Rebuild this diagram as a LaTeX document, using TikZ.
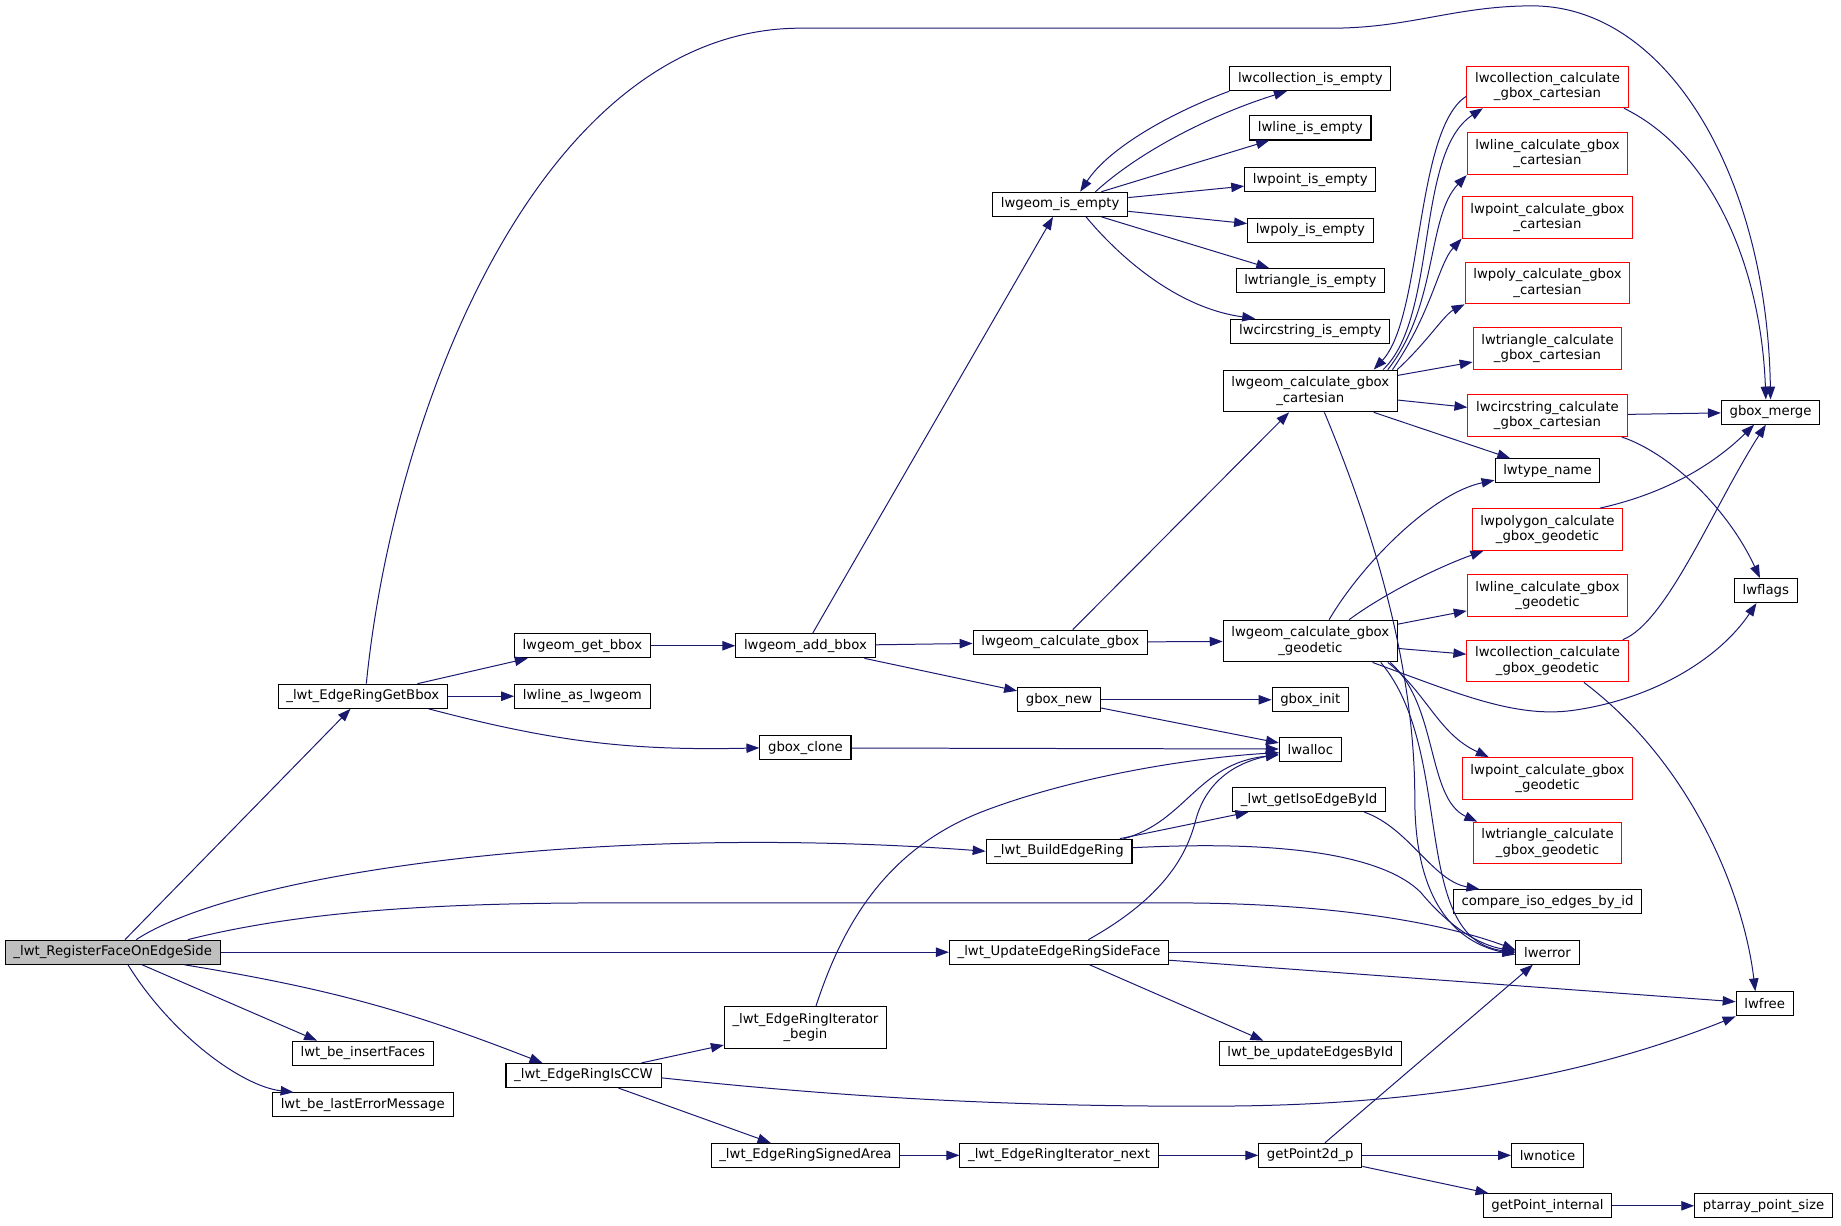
\documentclass[tikz,border=0pt]{standalone}
\usepackage{fontspec}
\setmainfont{DejaVu Sans}
\usetikzlibrary{arrows.meta}
\definecolor{edgeblue}{HTML}{191970}
\tikzset{
  fn/.style={draw=black, line width=0.9pt, fill=white, inner xsep=7pt, inner ysep=2pt,
    minimum height=20.5pt, align=center, font=\fontsize{11.3}{13}\selectfont},
  fntwo/.style={fn, minimum height=35.5pt},
  fnred/.style={fntwo, draw=red},
  fnroot/.style={fn, fill=black!25},
  call/.style={draw=edgeblue, line width=0.85pt, -{Triangle[length=11pt,width=8pt]}},
}

\begin{document}
\begin{tikzpicture}[x=1pt,y=-1pt]
			%%%%% START %%%%%
			\useasboundingbox (0,0) rectangle (1568,1044);
			
			% first column
			\node[fnroot] (rfoes) at (96, 811) {\_lwt\_RegisterFaceOnEdgeSide};
			\node[fn] (getbbox) at (309, 593) {\_lwt\_EdgeRingGetBbox};
			\node[fn] (insert) at (309, 897) {lwt\_be\_insertFaces};
			\node[fn] (lasterr) at (309, 941) {lwt\_be\_lastErrorMessage};
			
			\node[fn] (getbboxw) at (496, 550) {lwgeom\_get\_bbox};
			\node[fn] (lineas) at (496, 593) {lwline\_as\_lwgeom};
			\node[fn] (ccw) at (497, 916) {\_lwt\_EdgeRingIsCCW};
			
			\node[fn] (addbbox) at (686, 550) {lwgeom\_add\_bbox};
			\node[fn] (clone) at (686, 637) {gbox\_clone};
			\node[fntwo] (iterbegin) at (686, 875) {\_lwt\_EdgeRingIterator\\\_begin};
			\node[fn] (signed) at (686, 984) {\_lwt\_EdgeRingSignedArea};
			
			\node[fn] (isempty) at (903, 174) {lwgeom\_is\_empty};
			\node[fn] (calcgbox) at (903, 547) {lwgeom\_calculate\_gbox};
			\node[fn] (gboxnew) at (902, 596) {gbox\_new};
			\node[fn] (build) at (902, 725) {\_lwt\_BuildEdgeRing};
			\node[fn] (update) at (902, 811) {\_lwt\_UpdateEdgeRingSideFace};
			\node[fn] (iternext) at (902, 984) {\_lwt\_EdgeRingIterator\_next};
			
			% middle column
			\node[fn] (colempty) at (1116, 67) {lwcollection\_is\_empty};
			\node[fn] (lineempty) at (1116, 109) {lwline\_is\_empty};
			\node[fn] (pointempty) at (1116, 153) {lwpoint\_is\_empty};
			\node[fn] (polyempty) at (1116, 196) {lwpoly\_is\_empty};
			\node[fn] (triempty) at (1116, 239) {lwtriangle\_is\_empty};
			\node[fn] (circempty) at (1116, 282) {lwcircstring\_is\_empty};
			\node[fntwo] (cart) at (1116, 333) {lwgeom\_calculate\_gbox\\\_cartesian};
			\node[fntwo] (geod) at (1116, 546) {lwgeom\_calculate\_gbox\\\_geodetic};
			\node[fn] (init) at (1116, 596) {gbox\_init};
			\node[fn] (alloc) at (1116, 638) {lwalloc};
			\node[fn] (isoedge) at (1115, 681) {\_lwt\_getIsoEdgeById};
			\node[fn] (updedges) at (1116, 897) {lwt\_be\_updateEdgesById};
			\node[fn] (p2d) at (1116, 984) {getPoint2d\_p};
			
			% red column
			\node[fnred] (colcart) at (1318, 74) {lwcollection\_calculate\\\_gbox\_cartesian};
			\node[fnred] (linecart) at (1318, 131) {lwline\_calculate\_gbox\\\_cartesian};
			\node[fnred] (pointcart) at (1318, 185) {lwpoint\_calculate\_gbox\\\_cartesian};
			\node[fnred] (polycart) at (1318, 241) {lwpoly\_calculate\_gbox\\\_cartesian};
			\node[fnred] (tricart) at (1318, 297) {lwtriangle\_calculate\\\_gbox\_cartesian};
			\node[fnred] (circcart) at (1318, 354) {lwcircstring\_calculate\\\_gbox\_cartesian};
			\node[fn] (typename) at (1318, 401) {lwtype\_name};
			\node[fnred] (polygeod) at (1318, 451) {lwpolygon\_calculate\\\_gbox\_geodetic};
			\node[fnred] (linegeod) at (1318, 507) {lwline\_calculate\_gbox\\\_geodetic};
			\node[fnred] (colgeod) at (1318, 563) {lwcollection\_calculate\\\_gbox\_geodetic};
			\node[fnred] (pointgeod) at (1318, 663) {lwpoint\_calculate\_gbox\\\_geodetic};
			\node[fnred] (trigeod) at (1318, 718) {lwtriangle\_calculate\\\_gbox\_geodetic};
			\node[fn] (compare) at (1318, 768) {compare\_iso\_edges\_by\_id};
			\node[fn] (error) at (1318, 811) {lwerror};
			\node[fn] (notice) at (1318, 984) {lwnotice};
			\node[fn] (internal) at (1318, 1027) {getPoint\_internal};
			
			% last column
			\node[fn] (merge) at (1508, 351) {gbox\_merge};
			\node[fn] (flags) at (1504, 503) {lwflags};
			\node[fn] (free) at (1503, 855) {lwfree};
			\node[fn] (psize) at (1502, 1027) {ptarray\_point\_size};
			
			% calls of _lwt_RegisterFaceOnEdgeSide
			\draw[call] (rfoes) -- (getbbox);
			\draw[call] ([xshift=20pt]rfoes.north) .. controls (200,745) and (500,700) .. (build.west);
			\draw[call] ([xshift=64pt]rfoes.north) .. controls (260,775) and (380,769) .. (520,769) -- (1000,769) .. controls (1150,769) and (1240,790) .. ([yshift=2pt]error.west);
			\draw[call] (rfoes) -- (update);
			\draw[call] ([xshift=25pt]rfoes.south) -- ([xshift=-39pt]insert.north);
			\draw[call] ([xshift=13pt]rfoes.south) .. controls (145,880) and (205,925) .. ([xshift=-59pt]lasterr.north);
			\draw[call] ([xshift=61pt]rfoes.south) to[bend left=6] ([xshift=-35pt]ccw.north);
			
			% _lwt_EdgeRingGetBbox
			\draw[call] ([xshift=3pt]getbbox.north) .. controls (335,350) and (460,24) .. (682,24) -- (1134,24) .. controls (1200,24) and (1240,5) .. (1305,5) .. controls (1420,5) and (1505,150) .. (merge.north);
			\draw[call] (getbbox) -- (getbboxw);
			\draw[call] (getbbox) -- (lineas);
			\draw[call] ([xshift=56pt]getbbox.south) to[bend right=8] (clone.west);
			\draw[call] (getbboxw) -- (addbbox);
			\draw[call] (addbbox) -- (isempty);
			\draw[call] (addbbox) -- (calcgbox);
			\draw[call] (addbbox) -- (gboxnew);
			\draw[call] (calcgbox) -- (cart);
			\draw[call] (calcgbox) -- (geod);
			\draw[call] (gboxnew) -- (init);
			\draw[call] (gboxnew) -- (alloc);
			\draw[call] (clone) -- (alloc);
			
			% lwgeom_is_empty
			\draw[call] ([xshift=30pt]isempty.north) .. controls (975,125) and (1040,95) .. ([xshift=-20pt]colempty.south);
			\draw[call] (colempty.south west) .. controls (1000,95) and (945,125) .. ([xshift=17pt]isempty.north);
			\draw[call] (isempty) -- (lineempty);
			\draw[call] (isempty) -- (pointempty);
			\draw[call] (isempty) -- (polyempty);
			\draw[call] (isempty) -- (triempty);
			\draw[call] ([xshift=22pt]isempty.south) .. controls (950,215) and (1000,262) .. ([xshift=-47pt]circempty.north);
			
			% lwgeom_calculate_gbox_cartesian
			\draw[call] ([yshift=-8pt]colcart.west) .. controls (1205,110) and (1212,270) .. ([xshift=54pt]cart.north);
			\draw[call] ([xshift=62pt]cart.north) .. controls (1225,270) and (1205,130) .. ([xshift=-55pt]colcart.south);
			\draw[call] ([xshift=66pt]cart.north) .. controls (1225,260) and (1215,185) .. (linecart.south west);
			\draw[call] ([xshift=70pt]cart.north) .. controls (1220,265) and (1225,225) .. (pointcart.south west);
			\draw[call] ([xshift=74pt]cart.north) .. controls (1215,292) and (1230,268) .. (polycart.south west);
			\draw[call] (cart) -- (tricart);
			\draw[call] (cart) -- (circcart);
			\draw[call] (cart) -- (typename);
			\draw[call] ([xshift=12pt]cart.south) .. controls (1165,440) and (1205,560) .. (1205,680) .. controls (1205,780) and (1250,805) .. ([yshift=-2pt]error.west);
			\draw[call] ([xshift=-4pt]colcart.south east) .. controls (1460,130) and (1500,230) .. ([xshift=-4pt]merge.north);
			\draw[call] (circcart) -- (merge);
			\draw[call] ([xshift=-5pt]circcart.south east) .. controls (1420,385) and (1470,430) .. ([xshift=-5pt]flags.north);
			
			% lwgeom_calculate_gbox_geodetic
			\draw[call] ([xshift=16pt]geod.north) .. controls (1160,480) and (1220,420) .. ([yshift=-8pt]typename.west);
			\draw[call] ([xshift=33pt]geod.north) .. controls (1180,505) and (1225,483) .. ([xshift=10pt]polygeod.south west);
			\draw[call] (geod) -- (linegeod);
			\draw[call] (geod) -- (colgeod);
			\draw[call] ([xshift=53pt]geod.south) .. controls (1240,590) and (1290,612) .. (1340,605) .. controls (1410,595) and (1465,560) .. ([xshift=-8pt]flags.south);
			\draw[call] ([xshift=66pt]geod.south) .. controls (1215,590) and (1225,625) .. ([xshift=-50pt]pointgeod.north);
			\draw[call] ([xshift=68pt]geod.south) .. controls (1225,600) and (1215,680) .. ([xshift=4pt]trigeod.north west);
			\draw[call] ([xshift=60pt]geod.south) .. controls (1240,640) and (1200,800) .. (error.west);
			\draw[call] ([xshift=-20pt]polygeod.north east) .. controls (1420,420) and (1460,395) .. ([xshift=-14pt]merge.south);
			\draw[call] ([xshift=-5pt]colgeod.north east) .. controls (1420,530) and (1460,430) .. ([xshift=-4pt]merge.south);
			\draw[call] ([xshift=31pt]colgeod.south) .. controls (1440,650) and (1485,760) .. ([xshift=-8pt]free.north);
			
			% _lwt_BuildEdgeRing and _lwt_UpdateEdgeRingSideFace
			\draw[call] ([xshift=55pt]build.north) .. controls (1010,700) and (1020,650) .. ([yshift=-5pt]alloc.west);
			\draw[call] (build) -- (isoedge);
			\draw[call] ([yshift=3pt]build.east) .. controls (1100,715) and (1180,730) .. (1210,760) .. controls (1235,790) and (1260,805) .. ([yshift=1pt]error.west);
			\draw[call] ([xshift=47pt]isoedge.south) .. controls (1200,705) and (1220,750) .. ([xshift=-58pt]compare.north);
			\draw[call] ([xshift=25pt]update.north) .. controls (990,765) and (1010,730) .. (1018,700) .. controls (1028,660) and (1060,648) .. ([yshift=-4pt]alloc.west);
			\draw[call] (update) -- (error);
			\draw[call] (update) -- (free);
			\draw[call] ([xshift=26pt]update.south) -- ([xshift=-40pt]updedges.north);
			
			% _lwt_EdgeRingIsCCW
			\draw[call] ([xshift=9pt]iterbegin.north) .. controls (720,780) and (760,720) .. (840,690) .. controls (920,660) and (1020,645) .. ([yshift=-3pt]alloc.west);
			\draw[call] (ccw) -- (iterbegin);
			\draw[call] (ccw) -- (signed);
			\draw[call] ([yshift=-2pt]ccw.east) .. controls (750,938) and (900,943) .. (1050,942) .. controls (1250,940) and (1380,905) .. (free.south west);
			\draw[call] (signed) -- (iternext);
			\draw[call] (iternext) -- (p2d);
			\draw[call] (p2d) -- (error);
			\draw[call] (p2d) -- (notice);
			\draw[call] (p2d) -- (internal);
			\draw[call] (internal) -- (psize);
			
			%%%%% END %%%%%
\end{tikzpicture}
\end{document}
